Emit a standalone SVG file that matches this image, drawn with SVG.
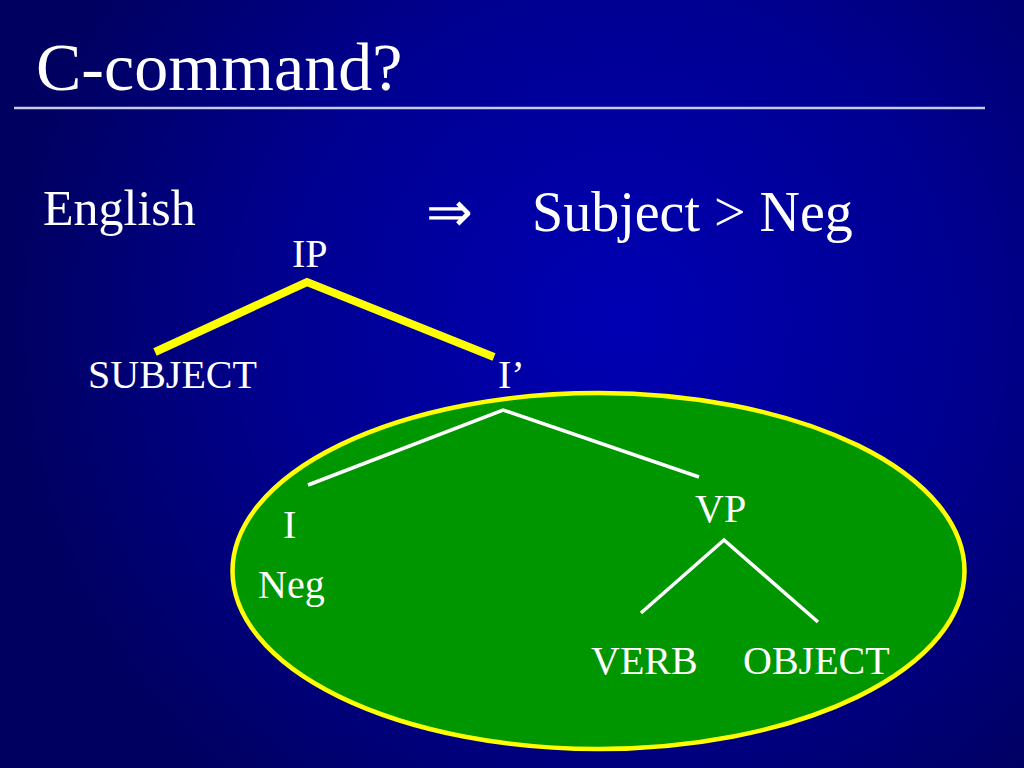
<svg xmlns="http://www.w3.org/2000/svg" width="1024" height="768" viewBox="0 0 1024 768">
<defs>
<radialGradient id="bg" gradientUnits="userSpaceOnUse" cx="620" cy="320" r="620">
<stop offset="0" stop-color="#0000b4"/>
<stop offset="0.55" stop-color="#000090"/>
<stop offset="1" stop-color="#000060"/>
</radialGradient>
<style>
.lbl{font-size:40px}
.ylink{stroke:#ffff00;stroke-width:8;fill:none;stroke-linejoin:miter}
.wlink{stroke:#ffffff;stroke-width:3.5;fill:none;stroke-linejoin:miter}
</style>
</defs>
<rect x="0" y="0" width="1024" height="768" fill="url(#bg)"/>
<g font-family="'Liberation Serif', 'Times New Roman', serif" fill="#ffffff">
<g id="title">
<text x="36" y="90" font-size="68">C-command?</text>
<line x1="14" y1="108" x2="985" y2="108" stroke="#c8c8e8" stroke-width="2.5"/>
</g>
<g id="english"><text x="43" y="225" font-size="50">English</text></g>
<g id="claim">
<text x="426" y="231" font-size="56">⇒</text>
<text x="532" y="231" font-size="56">Subject &gt; Neg</text>
</g>
<g id="ibar-domain">
<ellipse cx="598.5" cy="571" rx="366" ry="178" fill="#009600" stroke="#ffff00" stroke-width="4.5"/>
</g>
<g id="connectors">
<polyline class="ylink" points="155,352 307,282 494,357"/>
<polyline class="wlink" points="308,485 503,410 699,477"/>
<polyline class="wlink" points="641,613 724,540 818,622"/>
</g>
<g id="IP"><text class="lbl" x="292" y="267">IP</text></g>
<g id="SUBJECT"><text class="lbl" x="88" y="388">SUBJECT</text></g>
<g id="Ibar"><text class="lbl" x="498" y="388">I’</text></g>
<g id="I"><text class="lbl" x="283" y="538">I</text></g>
<g id="Neg"><text class="lbl" x="258" y="598">Neg</text></g>
<g id="VP"><text class="lbl" x="695" y="522">VP</text></g>
<g id="VERB"><text class="lbl" x="591" y="674">VERB</text></g>
<g id="OBJECT"><text class="lbl" x="743" y="674">OBJECT</text></g>
</g>
</svg>
